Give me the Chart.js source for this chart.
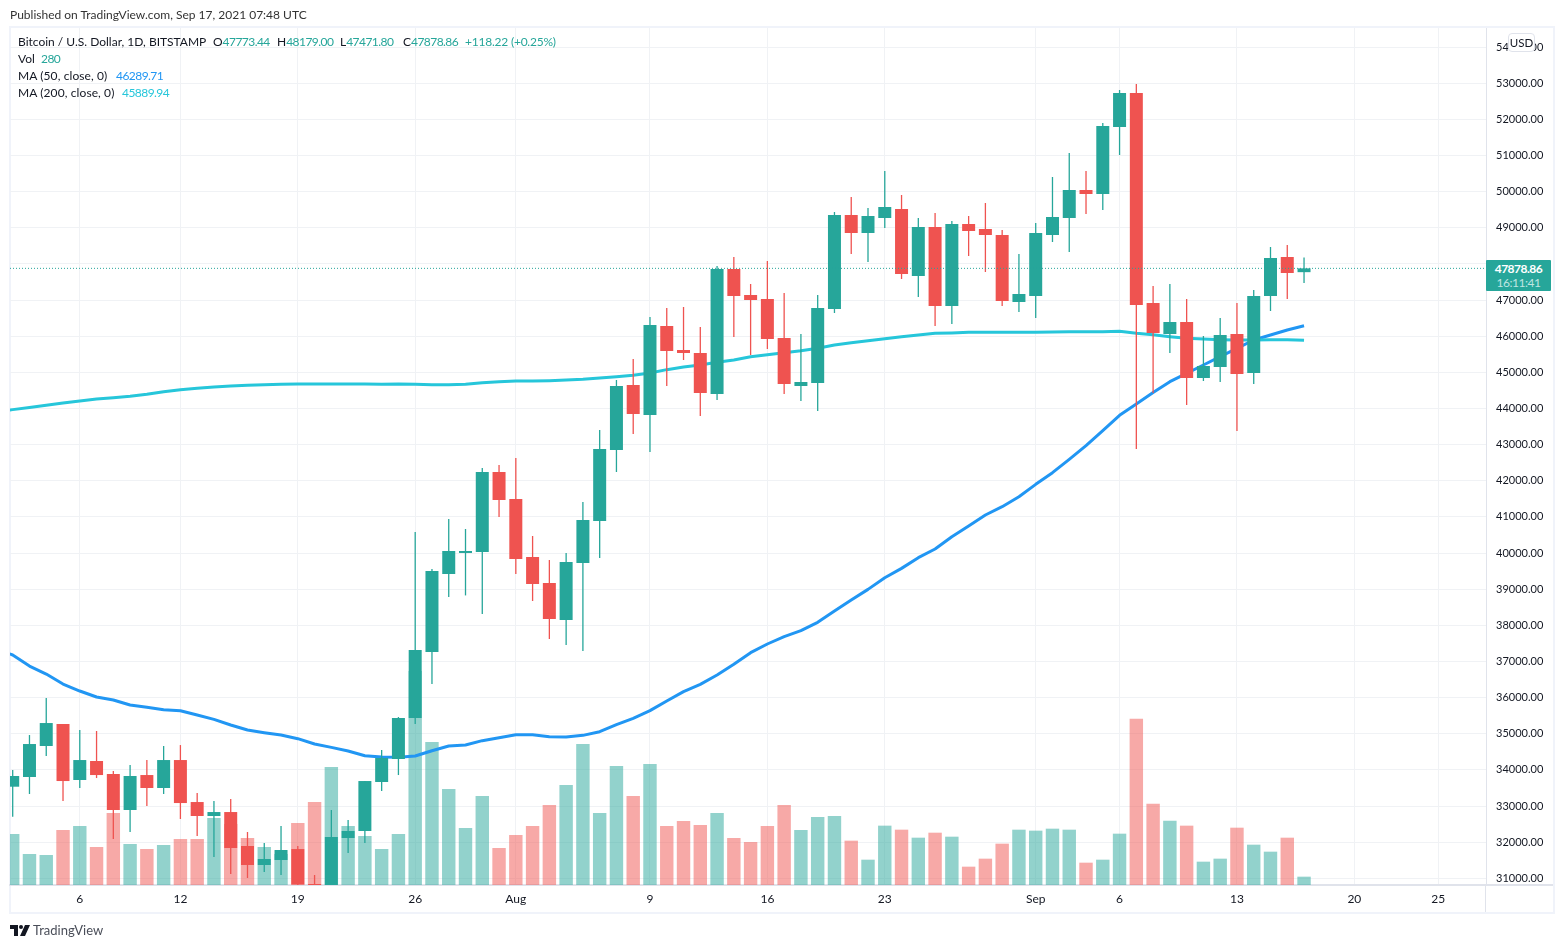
<!DOCTYPE html>
<html>
<head>
<meta charset="utf-8">
<title>Bitcoin / U.S. Dollar</title>
<script src="https://cdn.jsdelivr.net/npm/chart.js"></script>
<style>
  html, body { margin: 0; padding: 0; background: #fff; }
  body { width: 1566px; height: 948px; position: relative; overflow: hidden; font-family: Lato, sans-serif; font-size: 12px; color: #131722; }
  #frame { position: absolute; left: 9px; top: 26px; width: 1542px; height: 884px; border: 2px solid #f0f3fa; }
  canvas { position: absolute; left: 0; top: 0; }
  .t { position: absolute; white-space: nowrap; line-height: 14px; }
  .up { color: #26a69a; }
  .num { letter-spacing: -0.55px; }
  .axisLine { position: absolute; background: #e0e3eb; }
  #priceBox { position: absolute; left: 1486px; top: 260px; width: 65px; height: 31px; background: #26a69a; border-radius: 1px; color: #fff; text-align: center; font-size: 12px; line-height: 14px; padding-top: 2px; box-sizing: border-box; letter-spacing: -0.5px; }
  #priceBox b { display: block; font-weight: 700; }
  #priceBox span { display: block; color: #bfe5e1; }
  #usd { position: absolute; left: 1508px; top: 33px; width: 25px; height: 17px; background: #fff; border: 1px solid #e0e3eb; border-radius: 4px; text-align: center; font-size: 11.5px; line-height: 17px; }
</style>
</head>
<body>
<div id="frame"></div>
<canvas id="btcChart" width="1566" height="948"></canvas>
<div class="axisLine" style="left:1486px;top:884px;width:67px;height:2px"></div>
<div class="axisLine" style="left:1485px;top:885px;width:1px;height:27px"></div>

<div class="t" style="left:10px;top:8px;color:#333">Published on TradingView.com, Sep 17, 2021 07:48 UTC</div>
<div class="t" style="left:18px;top:35px">Bitcoin / U.S. Dollar, 1D, BITSTAMP</div>
<div class="t" style="left:213px;top:35px">O<span class="up num">47773.44</span></div>
<div class="t" style="left:277px;top:35px">H<span class="up num">48179.00</span></div>
<div class="t" style="left:340px;top:35px">L<span class="up num">47471.80</span></div>
<div class="t" style="left:403px;top:35px">C<span class="up num">47878.86</span></div>
<div class="t up" style="left:465px;top:35px;letter-spacing:-0.22px">+118.22 (+0.25%)</div>
<div class="t" style="left:18px;top:52px">Vol</div>
<div class="t up num" style="left:41px;top:52px">280</div>
<div class="t" style="left:18px;top:69px;letter-spacing:0.1px">MA (50, close, 0)</div>
<div class="t num" style="left:116px;top:69px;color:#2196f3">46289.71</div>
<div class="t" style="left:18px;top:86px;letter-spacing:0.1px">MA (200, close, 0)</div>
<div class="t num" style="left:122px;top:86px;color:#26c6da">45889.94</div>

<div id="priceBox"><b>47878.86</b><span>16:11:41</span></div>
<div id="usd">USD</div>

<svg style="position:absolute;left:10px;top:925px" width="20" height="11" viewBox="0 0 20 11">
  <path d="M0 0h8v11H4V4H0z M15 0h5l-5 11h-5z" fill="#131722"/>
  <circle cx="11" cy="2" r="2" fill="#131722"/>
</svg>
<div class="t" style="left:33px;top:923px;font-size:13px;color:#4a4e59">TradingView</div>

<script>
// days from Jul 1 to Sep 17 (Jul 1 sits just left of the visible pane)
const days = [
  'Jul 1','Jul 2','Jul 3','Jul 4','Jul 5','Jul 6','Jul 7','Jul 8','Jul 9','Jul 10','Jul 11','Jul 12','Jul 13','Jul 14','Jul 15','Jul 16',
  'Jul 17','Jul 18','Jul 19','Jul 20','Jul 21','Jul 22','Jul 23','Jul 24','Jul 25','Jul 26','Jul 27','Jul 28','Jul 29','Jul 30','Jul 31',
  'Aug 1','Aug 2','Aug 3','Aug 4','Aug 5','Aug 6','Aug 7','Aug 8','Aug 9','Aug 10','Aug 11','Aug 12','Aug 13','Aug 14','Aug 15','Aug 16',
  'Aug 17','Aug 18','Aug 19','Aug 20','Aug 21','Aug 22','Aug 23','Aug 24','Aug 25','Aug 26','Aug 27','Aug 28','Aug 29','Aug 30','Aug 31',
  'Sep 1','Sep 2','Sep 3','Sep 4','Sep 5','Sep 6','Sep 7','Sep 8','Sep 9','Sep 10','Sep 11','Sep 12','Sep 13','Sep 14','Sep 15','Sep 16','Sep 17'
];
const opens = [
  35040,33535,33803,34661,35270,33720,34246,33886,32890,33858,33499,34273,33111,32724,32834,31894,
  31368,31506,31810,30842,29790,32115,32309,33665,34301,35436,37263,39421,40003,40030,42244,
  41497,39892,39172,38148,39726,40888,42853,44651,43821,46284,45620,45537,44402,47861,47142,47031,
  45952,44624,44707,46754,49355,48857,49272,49521,47667,49023,46837,49106,48968,48802,46948,
  47114,48802,49272,50047,49936,51790,52731,46920,46062,46394,44845,45149,46062,44983,47114,48193,47773.44
];
const highs = [
  35040,33997,34965,35989,35270,35104,35076,33969,34135,34273,34661,34688,33360,33139,33194,32281,
  31976,32447,31894,31091,32890,32613,33692,34550,35463,40584,39560,40943,40667,42354,42437,
  42631,40473,39809,40002,41414,43406,44790,45371,46533,46782,46810,46256,47944,48193,47446,48083,
  47197,46063,47142,49438,49853,49549,50573,49909,49272,49411,49189,49328,49687,48940,48276,
  49134,50407,51071,50573,51901,52814,52980,47391,47446,47031,46007,46505,46920,47280,48470,48525,48179
];
const lows = [
  32700,32705,33333,34384,33139,33499,33775,32087,32281,32998,33333,32641,32170,31589,31119,31008,
  31174,31091,30400,29300,29500,31700,31977,33416,33858,35270,36376,38785,38828,38314,40998,
  39421,38674,37622,37456,37290,39864,42244,43295,42797,44624,45343,43793,44236,45979,45481,45647,
  44402,44208,43932,46643,48276,48055,48996,47584,47086,46284,46339,48221,47778,46837,46671,
  46505,48608,48331,49383,49494,51016,42880,44430,45537,44098,44762,44734,43378,44679,46699,47031,47471.8
];
const closes = [
  33535,33831,34716,35297,33692,34273,33858,32890,33831,33499,34273,33083,32724,32834,31838,31368,
  31534,31783,30830,29790,32143,32309,33692,34329,35436,37318,39504,40058,40058,42244,41469,
  39836,39144,38176,39753,40916,42880,44624,43849,46312,45592,45537,44430,47861,47114,47003,45924,
  44679,44734,46782,49355,48857,49328,49577,47722,49023,46837,49106,48913,48802,46975,47169,
  48857,49300,50047,49936,51818,52731,46865,46090,46394,44845,45177,46035,44955,47114,48165,47750,47878.86
];
const volumes = [
  1700,1714,1042,1008,1848,1982,1277,2419,1378,1210,1344,1546,1546,2251,2050,1579,
  1277,1042,2083,2789,3965,1982,1646,1210,1714,7190,4805,3226,1915,2990,1243,
  1680,1982,2688,3360,4738,2419,3998,2990,4066,1982,2150,2016,2419,1579,1445,1982,
  2688,1848,2285,2318,1490,851,1994,1859,1590,1758,1624,616,885,1389,1859,
  1826,1893,1859,750,851,1725,5589,2733,2162,1994,784,885,1926,1355,1120,1590,280
];
const ma50 = [
  37350,37179,36874,36653,36376,36183,36017,35934,35795,35731,35666,35639,35519,35399,35242,35104,
  35030,34965,34864,34716,34624,34522,34393,34356,34347,34384,34530,34661,34689,34809,34892,
  34975,34975,34920,34910,34956,35058,35252,35427,35639,35907,36165,36368,36626,36921,37244,37484,
  37687,37853,38083,38397,38701,38996,39319,39577,39873,40112,40454,40749,41053,41284,41561,
  41902,42225,42594,42972,43387,43811,44125,44443,44743,44974,45205,45435,45666,45896,46035,46173,46289.71
];
const ma200 = [
  43900,43970,44030,44090,44150,44208,44264,44301,44338,44393,44467,44522,44559,44596,44624,44642,
  44660,44670,44679,44679,44679,44679,44679,44674,44679,44670,44660,44660,44670,44716,44744,
  44762,44762,44771,44790,44808,44845,44882,44919,44983,45076,45149,45205,45279,45343,45435,45491,
  45546,45600,45666,45758,45822,45878,45933,45989,46035,46081,46090,46108,46108,46108,46108,
  46108,46118,46127,46127,46127,46136,46081,46044,45989,45942,45924,45906,45896,45896,45906,45906,45889.94
];
const priceTicks = [31000,32000,33000,34000,35000,36000,37000,38000,39000,40000,41000,42000,43000,44000,45000,46000,47000,48000,49000,50000,51000,52000,53000,54000];
const dateTicks = [5,11,18,25,31,39,46,53,62,67,74,81,86];
const dateLabels = ['6','12','19','26','Aug','9','16','23','Sep','6','13','20','25'];
const lastPrice = 47878.86;

const upColor = '#26a69a';
const downColor = '#ef5350';
const upVol = 'rgba(38,166,154,0.5)';
const downVol = 'rgba(239,83,80,0.5)';
const gridColor = '#f0f2f5';
const xMin = 0.839;
const xMax = 88.85;

const isUp = days.map((d, i) => closes[i] >= opens[i]);
const candleColors = isUp.map((up) => (up ? upColor : downColor));
const volColors = isUp.map((up) => (up ? upVol : downVol));

function createChart() {
  const ctx = document.getElementById('btcChart').getContext('2d');
  return new Chart(ctx, {
    type: 'bar',
    data: {
      datasets: [
        {
          label: 'Last',
          type: 'line',
          order: 0,
          data: [{ x: xMin, y: lastPrice }, { x: xMax, y: lastPrice }],
          borderColor: upColor,
          borderWidth: 1,
          borderDash: [1, 2],
          pointRadius: 0,
        },
        {
          label: 'Bodies',
          order: 1,
          grouped: false,
          barPercentage: 1,
          maxBarThickness: 13,
          data: days.map((d, i) => ({ x: i, y: [opens[i], closes[i]] })),
          backgroundColor: candleColors,
        },
        {
          label: 'Wicks',
          order: 2,
          grouped: false,
          barPercentage: 1,
          maxBarThickness: 1.3,
          data: days.map((d, i) => ({ x: i, y: [lows[i], highs[i]] })),
          backgroundColor: candleColors,
        },
        {
          label: 'MA 200',
          type: 'line',
          order: 3,
          data: days.map((d, i) => ({ x: i, y: ma200[i] })),
          borderColor: '#26c6da',
          borderWidth: 3,
          borderJoinStyle: 'round',
          pointRadius: 0,
        },
        {
          label: 'MA 50',
          type: 'line',
          order: 4,
          data: days.map((d, i) => ({ x: i, y: ma50[i] })),
          borderColor: '#2196f3',
          borderWidth: 3,
          borderJoinStyle: 'round',
          pointRadius: 0,
        },
        {
          label: 'Vol',
          order: 5,
          yAxisID: 'vol',
          grouped: false,
          barPercentage: 1,
          maxBarThickness: 15.7,
          data: days.map((d, i) => ({ x: i, y: volumes[i] })),
          backgroundColor: volColors,
        },
      ],
    },
    options: {
      responsive: false,
      animation: false,
      layout: { padding: { left: 10, right: 12, top: 28, bottom: 36 } },
      plugins: { legend: { display: false }, tooltip: { enabled: false } },
      scales: {
        x: {
          type: 'linear',
          min: xMin,
          max: xMax,
          offset: false,
          afterBuildTicks: (scale) => { scale.ticks = dateTicks.map((v) => ({ value: v })); },
          afterFit: (scale) => { scale.height = 27; },
          grid: { color: gridColor, offset: false, drawTicks: false },
          border: { color: '#e0e3eb', width: 2 },
          ticks: {
            autoSkip: false,
            maxRotation: 0,
            padding: 7,
            color: '#131722',
            font: { family: 'Lato', size: 12 },
            callback: (value) => dateLabels[dateTicks.indexOf(value)],
          },
        },
        y: {
          position: 'right',
          min: 30815,
          max: 54530,
          afterBuildTicks: (scale) => { scale.ticks = priceTicks.map((v) => ({ value: v })); },
          afterFit: (scale) => { scale.width = 68; },
          grid: { color: gridColor, drawTicks: false },
          border: { color: '#e0e3eb' },
          ticks: {
            padding: 10,
            color: '#131722',
            font: { family: 'Lato', size: 11 },
            callback: (value) => value.toFixed(2),
          },
        },
        vol: { display: false, min: 0, max: 28800 },
      },
    },
  });
}

createChart();
</script>
</body>
</html>
